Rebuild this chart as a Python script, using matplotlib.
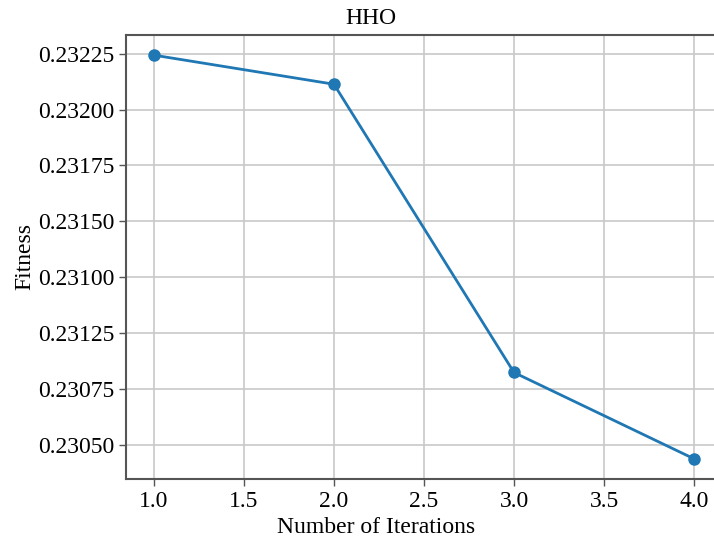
import matplotlib.pyplot as plt

# HHO fitness per iteration
iterations = [1, 2, 3, 4]
fitness = [0.232243, 0.232113, 0.230824, 0.230438]

y_ticks = [0.23225, 0.23200, 0.23175, 0.23150, 0.23125, 0.23100, 0.23075, 0.23050]
y_tick_labels = ['0.23225', '0.23200', '0.23175', '0.23150',
                 '0.23100', '0.23125', '0.23075', '0.23050']
x_ticks = [1.0, 1.5, 2.0, 2.5, 3.0, 3.5, 4.0]

plt.rcParams['font.family'] = 'Liberation Serif'
plt.rcParams['font.size'] = 17

fig = plt.figure(figsize=(7.14, 5.44), dpi=100)
# axes run a little past the right edge of the canvas
ax = fig.add_axes([0.1765, 0.1195, 0.8543, 0.8162])

ax.plot(iterations, fitness, color='#1f77b4', lw=2, marker='o', ms=8)

ax.set_xlim(0.845, 4.233)
ax.set_title('HHO', fontsize=17, pad=8, x=0.402)
ax.set_xlabel('Number of Iterations', fontsize=17, labelpad=4)
ax.xaxis.label.set_x(0.41)
ax.set_ylabel('Fitness', fontsize=17, labelpad=2)

ax.set_xticks(x_ticks)
ax.set_xticklabels(['%.1f' % t for t in x_ticks])
ax.set_yticks(y_ticks)
ax.set_yticklabels(y_tick_labels)

ax.grid(True, color='#c8c8c8', lw=1.2)
ax.set_axisbelow(True)
for s in ax.spines.values():
    s.set_color('#555555')
    s.set_linewidth(1.5)
ax.tick_params(direction='out', length=5, width=1, color='#555555')

fig.savefig('out.png', dpi=100)
